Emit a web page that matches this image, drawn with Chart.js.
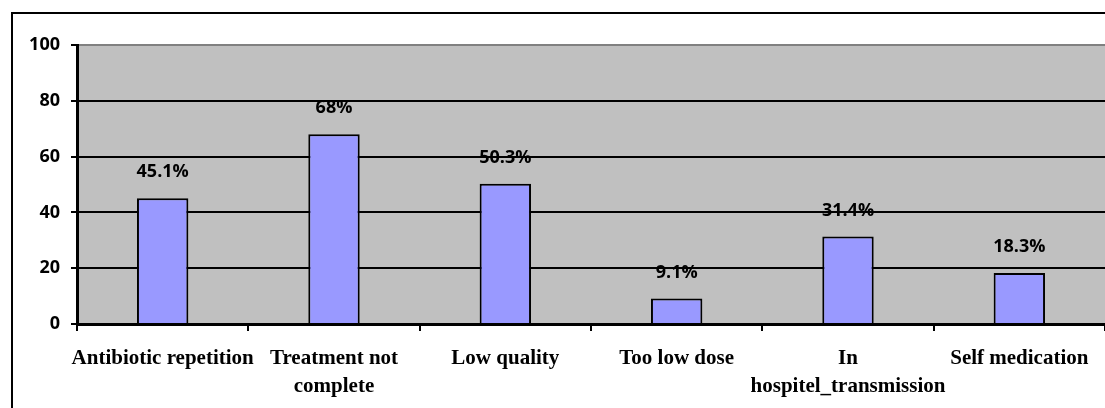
<!DOCTYPE html>
<html>
<head>
<meta charset="utf-8">
<script src="https://cdn.jsdelivr.net/npm/chart.js@4/dist/chart.umd.min.js"></script>
<style>
  html, body { margin: 0; padding: 0; background: #fff; overflow: hidden; }
  #wrap { position: relative; width: 1105px; height: 408px; }
</style>
</head>
<body>
<div id="wrap"><canvas id="c" width="1105" height="408"></canvas></div>
<script>
// Causes of antibiotic resistance (percent of respondents)
const categories = [
  'Antibiotic repetition',
  ['Treatment not', 'complete'],
  'Low quality',
  'Too low dose',
  ['In', 'hospitel_transmission'],
  'Self medication'
];
const percentValues = [45.1, 68, 50.3, 9.1, 31.4, 18.3];
const yTicks = [0, 20, 40, 60, 80, 100];

// Grey plot background plus the frame around the whole chart
const frameAndBackground = {
  id: 'frameAndBackground',
  beforeDraw(chart) {
    const { ctx, chartArea: a } = chart;
    ctx.save();
    ctx.fillStyle = '#C0C0C0';
    ctx.fillRect(a.left, a.top, a.right - a.left, a.bottom - a.top);
    ctx.strokeStyle = '#000';
    ctx.lineWidth = 2;
    ctx.strokeRect(12, 13, 2000, 2000);
    ctx.restore();
  }
};

// Percentage labels above each bar
const valueLabels = {
  id: 'valueLabels',
  afterDatasetsDraw(chart) {
    const { ctx } = chart;
    const meta = chart.getDatasetMeta(0);
    ctx.save();
    ctx.fillStyle = '#000';
    ctx.font = 'bold 18px "Open Sans", sans-serif';
    ctx.textAlign = 'center';
    ctx.textBaseline = 'middle';
    meta.data.forEach((bar, i) => {
      ctx.fillText(String(percentValues[i]) + '%', bar.x, bar.y - 26);
    });
    ctx.restore();
  }
};

new Chart(document.getElementById('c'), {
  type: 'bar',
  data: {
    labels: categories,
    datasets: [{
      data: percentValues,
      backgroundColor: '#9999FF',
      borderColor: '#000',
      borderWidth: 2,
      borderSkipped: 'bottom',
      categoryPercentage: 1,
      barPercentage: 0.3
    }]
  },
  options: {
    responsive: false,
    animation: false,
    devicePixelRatio: 1,
    layout: { padding: { top: 45, left: 0, right: 0, bottom: 0 } },
    plugins: {
      legend: { display: false },
      tooltip: { enabled: false },
      title: { display: false }
    },
    scales: {
      x: {
        grid: {
          offset: true,
          drawOnChartArea: false,
          drawTicks: true,
          tickLength: 7,
          color: '#000',
          lineWidth: 2
        },
        border: { display: true, color: '#000', width: 3 },
        ticks: {
          color: '#000',
          font: { family: '"Liberation Serif", "Times New Roman", serif', weight: 'bold', size: 21, lineHeight: 1.33 },
          maxRotation: 0,
          minRotation: 0,
          autoSkip: false,
          padding: 14
        },
        afterFit(scale) { scale.height = 84; }
      },
      y: {
        min: 0,
        max: 100,
        afterBuildTicks(scale) { scale.ticks = yTicks.map(v => ({ value: v })); },
        ticks: {
          color: '#000',
          font: { family: '"Open Sans", sans-serif', weight: 'bold', size: 18 },
          padding: 11
        },
        grid: {
          color: ctx => (ctx.tick && ctx.tick.value === 100) ? '#808080' : '#000',
          lineWidth: 2,
          tickLength: 6,
          tickColor: '#000'
        },
        border: { color: '#000', width: 3 },
        afterFit(scale) { scale.width = 77; }
      }
    }
  },
  plugins: [frameAndBackground, valueLabels]
});
</script>
</body>
</html>
